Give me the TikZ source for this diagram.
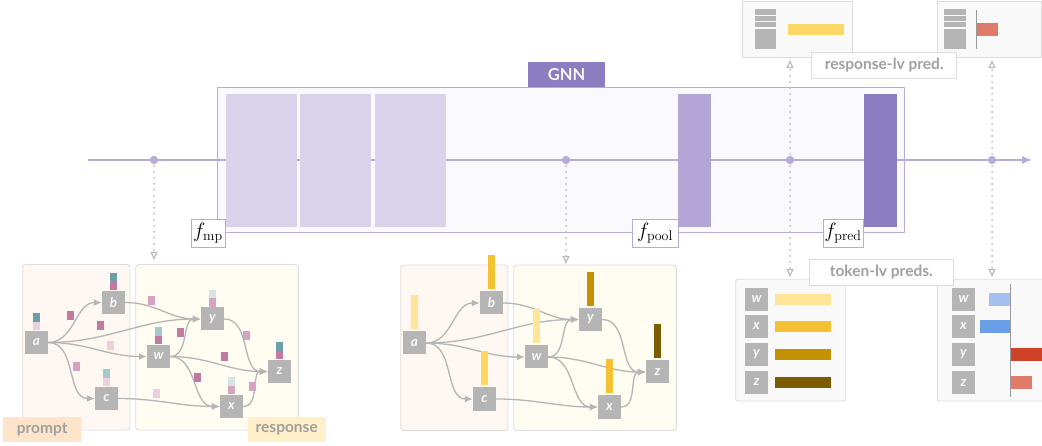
\documentclass[tikz,border=0pt]{standalone}
\usepackage{fontspec}
\newfontfamily\lato{Lato}
\usetikzlibrary{arrows.meta}
\definecolor{lav}{HTML}{B7ABDA}
\definecolor{boxfill}{HTML}{FAF9FE}
\definecolor{mprect}{HTML}{D9D2EA}
\definecolor{poolc}{HTML}{B3A6D6}
\definecolor{predc}{HTML}{8C7CC0}
\definecolor{ngray}{HTML}{B5B5B5}
\definecolor{egray}{HTML}{B5B5B5}
\definecolor{dotgray}{HTML}{BBBBBB}
\definecolor{lblgray}{HTML}{A0A0A0}
\definecolor{pnlborder}{HTML}{DDDDDD}
\definecolor{pnlfill}{HTML}{F9F9F9}
\definecolor{promptfill}{HTML}{FFF8F2}
\definecolor{respfill}{HTML}{FFFCF2}
\definecolor{promptlbl}{HTML}{FDE4CA}
\definecolor{resplbl}{HTML}{FFF0C9}
\definecolor{tealA}{HTML}{6D9FA8}
\definecolor{tealB}{HTML}{A5C8CC}
\definecolor{tealC}{HTML}{D4E5E7}
\definecolor{magA}{HTML}{C27A9E}
\definecolor{pinkB}{HTML}{D8A3C0}
\definecolor{pinkC}{HTML}{EFCFDC}
\definecolor{yelA}{HTML}{FFE597}
\definecolor{yelB}{HTML}{F3C131}
\definecolor{yelC}{HTML}{FFD75E}
\definecolor{yelD}{HTML}{C49100}
\definecolor{yelE}{HTML}{7D5C00}
\definecolor{yelR}{HTML}{FED866}
\definecolor{blueA}{HTML}{A4C1F1}
\definecolor{blueB}{HTML}{6A9FE7}
\definecolor{redA}{HTML}{D04228}
\definecolor{redB}{HTML}{E07B69}
\definecolor{axisgray}{HTML}{9A9A9A}
\tikzset{
  gnode/.style={fill=ngray, minimum size=23pt, inner sep=0pt,
    font=\lato\bfseries\itshape\fontsize{13.5}{13.5}\selectfont, text=white!92!ngray},
  gedge/.style={draw=egray, line width=1.3pt, -{Latex[length=8pt,width=7pt]}},
  panel/.style={draw=pnlborder, line width=0.9pt, rounded corners=3pt},
  tag/.style={font=\lato\bfseries\fontsize{15.5}{15.5}\selectfont, text=lblgray, inner sep=0pt},
  flabel/.style={draw=lav, fill=white, line width=0.9pt, inner sep=0pt,
    font=\fontsize{20}{20}\selectfont, minimum height=28pt},
  dotln/.style={draw=dotgray, line width=2pt, dash pattern=on 0pt off 6pt, line cap=round},
  opentip/.style={-{Triangle[open, length=8pt, width=7pt, line width=1.2pt, line cap=butt]}},
  ldot/.style={circle, fill=lav, minimum size=8pt, inner sep=0pt},
}
\newcommand\stk[3]{%
  \fill[#2] ([xshift=-3.5pt,yshift=9.1pt]#1.north) rectangle ++(7,-8.6);
  \fill[#3] ([xshift=-3.5pt,yshift=0.5pt]#1.north) rectangle ++(7,-8.6);}
\newcommand\vbar[2]{\fill[#2] ([xshift=-3.5pt,yshift=2pt]#1.north) rectangle ++(7,-34);}
\newcommand\fsq[3]{\fill[#3] (#1,#2) rectangle ++(7,8.6);}
\newcommand\gbase{%
  \draw[panel, fill=promptfill] (22.7,264.5) rectangle (130,430);
  \draw[panel, fill=respfill] (135.7,264.5) rectangle (298.3,430);
  \node[gnode] (a) at (36.5,342.5) {a};
  \node[gnode] (b) at (113.5,302.5) {b};
  \node[gnode] (c) at (106.5,398.5) {c};
  \node[gnode] (w) at (158.5,356.5) {w};
  \node[gnode] (y) at (212.5,319) {y};
  \node[gnode] (z) at (279.5,371.5) {z};
  \node[gnode] (x) at (231.5,406.5) {x};
  \draw[gedge] (a.east) to[out=0,in=180] (b.west);
  \draw[gedge] (a.east) to[out=0,in=180] (c.west);
  \draw[gedge] (a.east) to[out=0,in=180] (w.west);
  \draw[gedge] (a.east) to[out=0,in=180] (y.west);
  \draw[gedge] (b.east) to[out=0,in=180] (y.west);
  \draw[gedge] (w.east) to[out=0,in=180] (y.west);
  \draw[gedge] (w.east) to[out=0,in=180] (z.west);
  \draw[gedge] (w.east) to[out=0,in=180] (x.west);
  \draw[gedge] (c.east) to[out=0,in=180] (x.west);
  \draw[gedge] (y.east) to[out=0,in=180] (z.west);
  \draw[gedge] (x.east) to[out=0,in=180] (z.west);
}
\begin{document}
\begin{tikzpicture}[x=1pt,y=-1pt]
\useasboundingbox (0,0) rectangle (1042,446);
% GNN box
\draw[lav, line width=1.6pt, fill=boxfill] (217.5,87.5) rectangle (904.5,232.5);
\node[fill=predc, text=white!92!predc, font=\lato\bfseries\fontsize{16.5}{16.5}\selectfont,
  minimum width=77pt, minimum height=25pt, inner sep=0pt] (gnn) at (566.5,74.8) {GNN};
% main line
\coordinate (lstart) at (88,160);
\coordinate (lend) at (1032,160);
\draw[lav, line width=1.5pt, -{Latex[length=10pt,width=8pt]}] (lstart) -- (lend);
% rects
\fill[mprect] (226,94) rectangle (297,227);
\fill[mprect] (300,94) rectangle (371,227);
\fill[mprect] (375,94) rectangle (445.7,227);
\fill[poolc] (678,94) rectangle (710.7,227);
\fill[predc] (864,94) rectangle (896.7,227);
\node[flabel, minimum width=34pt] (fmp) at (208,233) {$f_{\mathrm{mp}}$};
\node[flabel, minimum width=46pt] (fpool) at (655,233) {$f_{\mathrm{pool}}$};
\node[flabel, minimum width=40pt] (fpred) at (843,233) {$f_{\mathrm{pred}}$};
% dots
\node[ldot] (d1) at (154,160) {};
\node[ldot] (d2) at (566,160) {};
\node[ldot] (d3) at (790,160) {};
\node[ldot] (d4) at (992,160) {};
\coordinate (t1) at (154,260);
\coordinate (t2) at (566,264);
\coordinate (t3u) at (790,60);
\coordinate (t3d) at (790,277);
\coordinate (t4u) at (992,60);
\coordinate (t4d) at (992,277);
% left graph
\begin{scope}[name prefix=L-]
\gbase
\stk{a}{tealA}{pinkC}
\stk{b}{tealA}{magA}
\stk{c}{tealB}{pinkC}
\stk{w}{tealB}{magA}
\stk{y}{tealC}{pinkB}
\stk{z}{tealA}{magA}
\stk{x}{tealC}{pinkB}
\end{scope}
\fsq{67}{311}{magA}
\fsq{97}{321}{magA}
\fsq{107}{341}{pinkC}
\fsq{73}{362}{pinkB}
\fsq{148}{296}{pinkB}
\fsq{153}{389}{pinkC}
\fsq{177}{328}{magA}
\fsq{243}{331}{pinkB}
\fsq{221}{352}{magA}
\fsq{194}{373}{magA}
\fsq{249}{382}{pinkB}
\node[tag, fill=promptlbl, minimum width=77.7pt, minimum height=24.7pt] (plab) at (42.2,429.3) {prompt};
\node[tag, fill=resplbl, minimum width=78pt, minimum height=24.7pt] (rlab) at (286.7,429.3) {response};
% middle graph
\begin{scope}[name prefix=M-, shift={(378,0.5)}]
\gbase
\vbar{a}{yelA}
\vbar{b}{yelB}
\vbar{c}{yelC}
\vbar{w}{yelA}
\vbar{y}{yelD}
\vbar{z}{yelE}
\vbar{x}{yelB}
\end{scope}
% top-right boxes
\draw[pnlborder, line width=0.9pt, fill=pnlfill] (742,1.7) rectangle (852.7,57);
\fill[ngray] (755,9.3) rectangle (776,14.7);
\fill[ngray] (755,15.7) rectangle (776,20.7);
\fill[ngray] (755,22) rectangle (776,27.3);
\fill[ngray] (755,28.7) rectangle (776,49.3);
\fill[yelR] (787.7,24) rectangle (844,34.7);
\draw[pnlborder, line width=0.9pt, fill=pnlfill] (937,1.7) rectangle (1041.5,57);
\fill[ngray] (944.3,9.3) rectangle (966.3,14.7);
\fill[ngray] (944.3,15.7) rectangle (966.3,20.7);
\fill[ngray] (944.3,22) rectangle (966.3,27.3);
\fill[ngray] (944.3,28.7) rectangle (966.3,49.3);
\draw[axisgray, line width=1.2pt] (976.3,10) -- (976.3,48.7);
\fill[redB] (976.9,22.7) rectangle (998,36);
\node[tag, draw=pnlborder, line width=0.9pt, fill=white, minimum width=145pt, minimum height=26pt] (rpred) at (884.2,65.3) {response-lv pred.};
% token panels
\draw[pnlborder, line width=0.9pt, fill=pnlfill, rounded corners=2pt] (735.7,279.3) rectangle (845.7,401);
\node[gnode] (p1w) at (756.5,299.3) {w};
\node[gnode] (p1x) at (756.5,326.3) {x};
\node[gnode] (p1y) at (756.5,354.3) {y};
\node[gnode] (p1z) at (756.5,382.2) {z};
\fill[yelA] (775,293.8) rectangle (831,304.8);
\fill[yelB] (775,320.8) rectangle (831,331.8);
\fill[yelD] (775,348.8) rectangle (831,359.8);
\fill[yelE] (775,376.7) rectangle (831,387.7);
\draw[pnlborder, line width=0.9pt, fill=pnlfill, rounded corners=2pt] (937.3,279.3) rectangle (1050,401);
\node[gnode] (p2w) at (963.5,299.3) {w};
\node[gnode] (p2x) at (963.5,326.3) {x};
\node[gnode] (p2y) at (963.5,354.6) {y};
\node[gnode] (p2z) at (963.5,382.6) {z};
\fill[blueA] (989,293) rectangle (1010,305.7);
\fill[blueB] (980,320) rectangle (1010,332.7);
\fill[redA] (1011,348.3) rectangle (1050,361);
\fill[redB] (1010.5,376.3) rectangle (1032,389);
\draw[axisgray, line width=1.2pt] (1010.3,284.3) -- (1010.3,396.7);
\node[tag, draw=pnlborder, line width=0.9pt, fill=white, minimum width=144pt, minimum height=26pt] (tpred) at (881.3,272.3) {token-lv preds.};
% dotted connectors
\draw[dotln, opentip] (d1.center) -- (t1);
\draw[dotln, opentip] (d2.center) -- (t2);
\draw[dotln, opentip] (d3.center) -- (t3u);
\draw[dotln, opentip] (d3.center) -- (t3d);
\draw[dotln, opentip] (d4.center) -- (t4u);
\draw[dotln, opentip] (d4.center) -- (t4d);
\node[ldot] at (d1) {};
\node[ldot] at (d2) {};
\node[ldot] at (d3) {};
\node[ldot] at (d4) {};
\end{tikzpicture}
\end{document}
